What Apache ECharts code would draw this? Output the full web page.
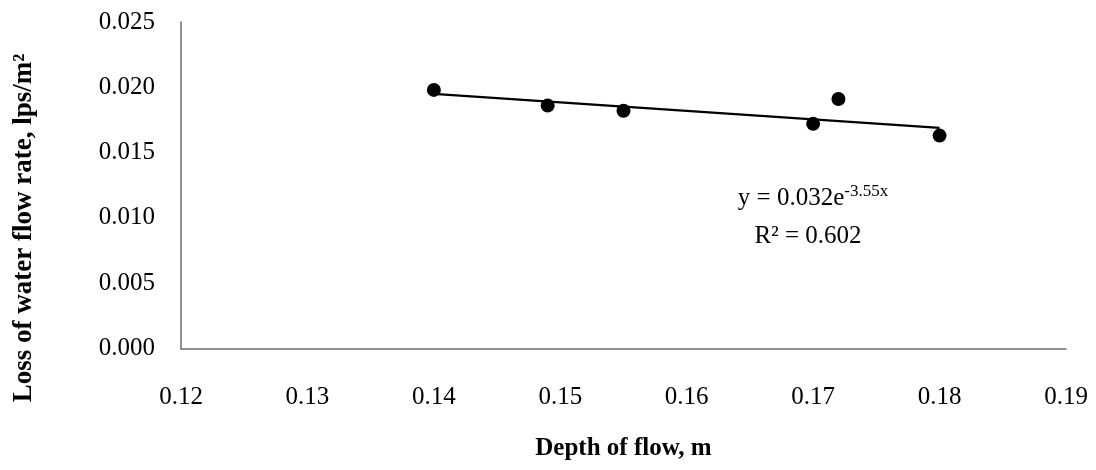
<!DOCTYPE html>
<html>
<head>
<meta charset="utf-8">
<script src="https://cdn.jsdelivr.net/npm/echarts@6/dist/echarts.min.js"></script>
<style>
html,body{margin:0;padding:0;background:#fff;}
#chart{width:1096px;height:470px;}
</style>
</head>
<body>
<div id="chart"></div>
<script>
// Data
const depth = [0.14, 0.149, 0.155, 0.17, 0.172, 0.18];
const loss = [0.0198, 0.0186, 0.0182, 0.0172, 0.0191, 0.0163];
const trendDepth = [0.14, 0.18];
const trendLoss = [0.0195, 0.0169];
const xTicks = ['0.12', '0.13', '0.14', '0.15', '0.16', '0.17', '0.18', '0.19'];
const yTicks = ['0.000', '0.005', '0.010', '0.015', '0.020', '0.025'];
const xTitle = 'Depth of flow, m';
const yTitle = 'Loss of water flow rate, lps/m²';
const eqLine1 = 'y = 0.032e';
const eqExp = '-3.55x';
const eqLine2 = 'R² = 0.602';

const FONT = '"Liberation Serif", "Times New Roman", serif';
const chart = echarts.init(document.getElementById('chart'), null, {renderer: 'canvas'});

const option = {
  backgroundColor: '#ffffff',
  animation: false,
  grid: {left: 181, right: 30, top: 22, bottom: 121.5, containLabel: false},
  xAxis: {
    type: 'value',
    min: Number(xTicks[0]),
    max: Number(xTicks[xTicks.length - 1]),
    interval: 0.01,
    splitLine: {show: false},
    axisTick: {show: false},
    axisLine: {lineStyle: {color: '#6e6e6e', width: 1.5}},
    axisLabel: {
      color: '#000', fontFamily: FONT, fontSize: 25, margin: 36,
      formatter: function (v) { return v.toFixed(2); }
    },
    name: xTitle,
    nameLocation: 'middle',
    nameGap: 88,
    nameTextStyle: {color: '#000', fontFamily: FONT, fontSize: 25, fontWeight: 'bold'}
  },
  yAxis: {
    type: 'value',
    min: Number(yTicks[0]),
    max: Number(yTicks[yTicks.length - 1]),
    interval: 0.005,
    splitLine: {show: false},
    axisTick: {show: false},
    axisLine: {show: true, lineStyle: {color: '#6e6e6e', width: 1.5}},
    axisLabel: {
      color: '#000', fontFamily: FONT, fontSize: 25, margin: 26,
      formatter: function (v) { return v.toFixed(3); }
    }
  },
  graphic: [
    {
      type: 'text',
      x: 24, y: 228,
      rotation: Math.PI / 2,
      style: {
        text: yTitle,
        fill: '#000',
        font: 'bold 27px ' + FONT,
        align: 'center',
        verticalAlign: 'middle'
      }
    },
    {
      type: 'text',
      x: 813, y: 198,
      style: {
        text: '{a|' + eqLine1 + '}{s|' + eqExp + '}',
        align: 'center',
        verticalAlign: 'middle',
        rich: {
          a: {fontFamily: FONT, fontSize: 25, fill: '#000', lineHeight: 30, verticalAlign: 'middle'},
          s: {fontFamily: FONT, fontSize: 17, fill: '#000', lineHeight: 17, verticalAlign: 'top'}
        }
      }
    },
    {
      type: 'text',
      x: 808, y: 236,
      style: {
        text: eqLine2,
        fill: '#000',
        font: '25px ' + FONT,
        align: 'center',
        verticalAlign: 'middle'
      }
    }
  ],
  series: [
    {
      type: 'line',
      data: trendDepth.map((x, i) => [x, trendLoss[i]]),
      symbol: 'none',
      lineStyle: {color: '#000', width: 2.3},
      z: 2
    },
    {
      type: 'scatter',
      data: depth.map((x, i) => [x, loss[i]]),
      symbol: 'circle',
      symbolSize: 14,
      itemStyle: {color: '#000', opacity: 1},
      z: 3
    }
  ]
};
chart.setOption(option);
</script>
</body>
</html>
